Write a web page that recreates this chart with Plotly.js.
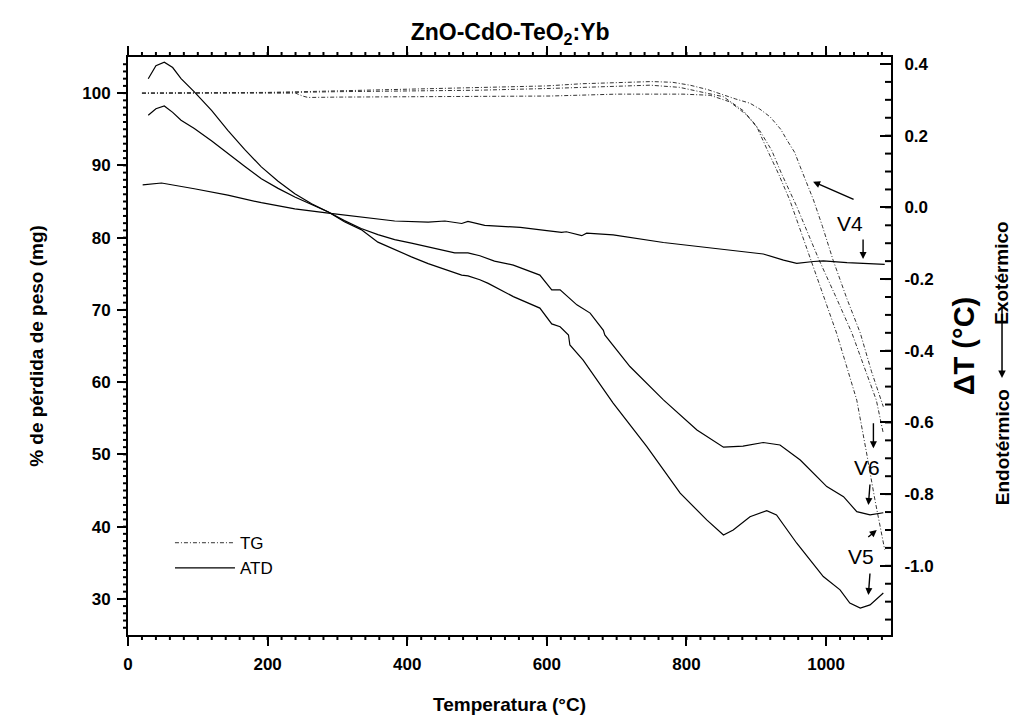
<!DOCTYPE html>
<html>
<head>
<meta charset="utf-8">
<script src="https://cdn.plot.ly/plotly-3.0.1.min.js"></script>
<style>html,body{margin:0;padding:0;background:#fff}#chart{width:1013px;height:719px}</style>
</head>
<body>
<div id="chart"></div>
<script>
// ---- TG curves (left axis, % weight) ----
const tgT1 = [20, 100, 200, 250, 300, 400, 500, 600, 650, 700, 750, 780, 805, 830, 853, 870, 891, 905, 920, 935, 944, 955, 963, 972, 982, 995, 1010, 1030, 1049, 1065, 1082];
const tg1  = [100.0, 100.0, 100.1, 100.2, 100.3, 100.5, 100.7, 101.0, 101.3, 101.5, 101.6, 101.5, 101.1, 100.5, 99.7, 99.2, 98.6, 97.8, 96.7, 95.0, 93.5, 91.8, 89.8, 87.6, 85.2, 81.5, 76.9, 71.5, 66.8, 61.5, 56.6];
const tgT2 = [20, 100, 200, 240, 300, 400, 500, 605, 700, 748, 790, 819, 853, 881, 900, 916, 932, 948, 965, 978, 998, 1015, 1030, 1044, 1058, 1070, 1084];
const tg2  = [100.0, 100.0, 100.0, 100.1, 100.2, 100.3, 100.4, 100.65, 100.95, 101.1, 100.8, 100.2, 99.5, 97.6, 95.5, 92.1, 88.8, 85.2, 80.5, 76.9, 71.6, 66.8, 62.0, 57.5, 50.2, 43.7, 36.8];
const tgT3 = [20, 100, 200, 240, 250, 258, 300, 400, 500, 605, 700, 795, 834, 862, 886, 905, 922, 936, 958, 990, 1015, 1037, 1055, 1072, 1082];
const tg3  = [100.0, 100.0, 100.0, 100.0, 99.6, 99.4, 99.45, 99.5, 99.5, 99.6, 99.86, 99.86, 99.7, 98.8, 97.0, 94.8, 92.1, 88.9, 84.3, 76.9, 71.6, 66.8, 62.0, 57.5, 52.9];

// ---- ATD curves (right axis, ΔT °C) ----
const atdT5 = [29, 40, 52, 64, 76, 95, 120, 143, 167, 191, 215, 239, 263, 287, 310, 334, 358, 382, 406, 430, 454, 478, 487, 504, 516, 552, 590, 607, 619, 631, 633, 652, 695, 743, 791, 829, 853, 867, 891, 915, 929, 958, 996, 1020, 1034, 1049, 1063, 1082];
const atd5  = [0.359, 0.395, 0.405, 0.39, 0.359, 0.322, 0.27, 0.215, 0.162, 0.113, 0.073, 0.038, 0.010, -0.013, -0.040, -0.062, -0.097, -0.118, -0.138, -0.157, -0.174, -0.189, -0.191, -0.202, -0.212, -0.249, -0.281, -0.325, -0.333, -0.356, -0.384, -0.426, -0.546, -0.667, -0.797, -0.872, -0.914, -0.900, -0.863, -0.846, -0.858, -0.937, -1.03, -1.067, -1.104, -1.118, -1.109, -1.076];
const atdT6 = [29, 40, 52, 64, 76, 95, 120, 143, 167, 191, 215, 239, 263, 287, 310, 334, 358, 382, 406, 430, 454, 468, 487, 504, 525, 552, 590, 607, 619, 643, 662, 681, 683, 719, 767, 815, 853, 881, 910, 934, 963, 1001, 1025, 1044, 1063, 1082];
const atd6  = [0.257, 0.275, 0.283, 0.265, 0.243, 0.22, 0.185, 0.15, 0.115, 0.08, 0.053, 0.029, 0.007, -0.013, -0.037, -0.059, -0.076, -0.09, -0.100, -0.110, -0.119, -0.127, -0.127, -0.135, -0.150, -0.161, -0.189, -0.23, -0.23, -0.272, -0.295, -0.343, -0.356, -0.444, -0.537, -0.621, -0.669, -0.666, -0.656, -0.663, -0.705, -0.779, -0.807, -0.849, -0.858, -0.852];
const atdT4 = [21, 48, 95, 143, 191, 239, 287, 334, 382, 430, 454, 478, 487, 511, 562, 600, 621, 628, 650, 657, 695, 767, 839, 910, 939, 958, 982, 996, 1030, 1084];
const atd4  = [0.063, 0.068, 0.052, 0.034, 0.013, -0.004, -0.016, -0.027, -0.038, -0.041, -0.038, -0.045, -0.039, -0.050, -0.056, -0.065, -0.070, -0.068, -0.079, -0.072, -0.077, -0.098, -0.114, -0.130, -0.147, -0.156, -0.151, -0.149, -0.154, -0.159];

const legendNames = ['TG', 'ATD'];
const y2Ticks = [0.4, 0.2, 0.0, -0.2, -0.4, -0.6, -0.8, -1.0, -1.2];
const y2TickText = ['0.4', '0.2', '0.0', '-0.2', '-0.4', '-0.6', '-0.8', '-1.0', '-1.2'];

const xRange = [0, 1093];
const yRange = [25, 105];
const y2Range = [-1.193, 0.4195];

const tgLine = {color: '#333', width: 1, dash: '4px,2px,1px,2px'};
const atdLine = {color: '#000', width: 1.2};

const traces = [
  {x: tgT1, y: tg1, mode: 'lines', line: tgLine, name: legendNames[0], showlegend: true, yaxis: 'y'},
  {x: tgT2, y: tg2, mode: 'lines', line: tgLine, name: legendNames[0], showlegend: false, yaxis: 'y'},
  {x: tgT3, y: tg3, mode: 'lines', line: tgLine, name: legendNames[0], showlegend: false, yaxis: 'y'},
  {x: atdT4, y: atd4, mode: 'lines', line: atdLine, name: legendNames[1], showlegend: true, yaxis: 'y2'},
  {x: atdT6, y: atd6, mode: 'lines', line: atdLine, name: legendNames[1], showlegend: false, yaxis: 'y2'},
  {x: atdT5, y: atd5, mode: 'lines', line: atdLine, name: legendNames[1], showlegend: false, yaxis: 'y2'}
];

const F = 'Liberation Sans, Arial, sans-serif';
const FN = 'Liberation Sans Narrow, Liberation Sans, Arial, sans-serif';
const tickFont = {family: F, size: 17, color: '#000', weight: 'bold'};

function arrow(x, y, ax, ay) {
  return {x: x, y: y, xref: 'x', yref: 'y', ax: ax, ay: ay, text: '', showarrow: true,
          arrowhead: 2, arrowsize: 1, arrowwidth: 1.4, arrowcolor: '#000'};
}
function label(x, y, t) {
  return {x: x, y: y, xref: 'x', yref: 'y', text: t, showarrow: false,
          font: {family: F, size: 21, color: '#000'}};
}

// minor tick marks drawn as small axis-decoration shapes (paper coordinates)
const tickShapes = [];
const tl = {color: '#000', width: 2};
function frac(v, r) { return (v - r[0]) / (r[1] - r[0]); }
for (let v = 20; v < xRange[1]; v += 20) {
  const p = frac(v, xRange);
  tickShapes.push({type: 'line', xref: 'paper', yref: 'paper', ysizemode: 'pixel', yanchor: 0, x0: p, x1: p, y0: 0, y1: -5, line: tl, layer: 'above'});
  tickShapes.push({type: 'line', xref: 'paper', yref: 'paper', ysizemode: 'pixel', yanchor: 1, x0: p, x1: p, y0: 0, y1: 5, line: tl, layer: 'above'});
}
for (let v = 26; v < yRange[1]; v += 1) {
  const p = frac(v, yRange);
  tickShapes.push({type: 'line', xref: 'paper', yref: 'paper', xsizemode: 'pixel', xanchor: 0, x0: 0, x1: -5, y0: p, y1: p, line: tl, layer: 'above'});
}
for (let k = -23; k <= 8; k++) {
  const p = frac(k * 0.05, y2Range);
  tickShapes.push({type: 'line', xref: 'paper', yref: 'paper', xsizemode: 'pixel', xanchor: 1, x0: 0, x1: -6, y0: p, y1: p, line: tl, layer: 'above'});
}

const layout = {
  width: 1013, height: 719,
  paper_bgcolor: '#fff', plot_bgcolor: '#fff',
  margin: {l: 128, r: 122, t: 57, b: 84},
  title: {text: 'ZnO-CdO-TeO<sub>2</sub>:Yb', x: 0.5036, xanchor: 'center', y: 1 - 32/719, yanchor: 'middle', yref: 'container',
          font: {family: F, size: 23, color: '#000', weight: 'bold'}},
  showlegend: true,
  legend: {x: 0.055, y: 0.19, xanchor: 'left', yanchor: 'top', bgcolor: 'rgba(0,0,0,0)', borderwidth: 0,
           font: {family: F, size: 17, color: '#000'}, itemwidth: 60, tracegroupgap: 0},
  xaxis: {range: xRange, tickmode: 'linear', tick0: 0, dtick: 200, ticks: 'outside', ticklen: 9, tickwidth: 2, tickcolor: '#000',
          showline: true, linecolor: '#000', linewidth: 2, mirror: 'allticks', showgrid: false, zeroline: false,
          tickfont: tickFont, ticklabelstandoff: 4,
          title: {text: 'Temperatura (°C)', standoff: 24, font: {family: F, size: 19, color: '#000', weight: 'bold'}}},
  yaxis: {range: yRange, tickmode: 'linear', tick0: 0, dtick: 10, ticks: 'outside', ticklen: 9, tickwidth: 2, tickcolor: '#000',
          showline: true, linecolor: '#000', linewidth: 2, showgrid: false, zeroline: false,
          tickfont: tickFont, ticklabelstandoff: 3,
          title: {text: '% de pérdida de peso (mg)', standoff: 34, font: {family: FN, size: 19, color: '#000', weight: 'bold'}}},
  yaxis2: {range: y2Range, overlaying: 'y', side: 'right', tickmode: 'array', tickvals: y2Ticks, ticktext: y2TickText,
           ticks: 'inside', ticklen: 11, tickwidth: 2, tickcolor: '#000',
           showline: true, linecolor: '#000', linewidth: 2, showgrid: false, zeroline: false,
           tickfont: tickFont, ticklabelstandoff: 8,
           title: {text: 'ΔT (°C)', standoff: 20, font: {family: F, size: 29, color: '#000', weight: 'bold'}}},
  shapes: tickShapes,
  annotations: [
    arrow(981.4, 87.74, 42, 18.3),
    label(1034.4, 82.0, 'V4'),
    arrow(1053, 77.04, 0, -21),
    arrow(1067.8, 50.84, 0, -26.6),
    label(1058.7, 48.25, 'V6'),
    arrow(1060.6, 42.99, 1.7, -22),
    arrow(1072.6, 39.53, -10, 8.3),
    label(1050.1, 35.93, 'V5'),
    arrow(1060.6, 30.54, 1.7, -23),
    {x: 1.1455, y: 0.625, xref: 'paper', yref: 'paper', xanchor: 'center', yanchor: 'middle', text: 'Exotérmico', textangle: -90, showarrow: false,
     font: {family: FN, size: 19, color: '#000', weight: 'bold'}},
    {x: 1.1455, y: 0.325, xref: 'paper', yref: 'paper', xanchor: 'center', yanchor: 'middle', text: 'Endotérmico', textangle: -90, showarrow: false,
     font: {family: FN, size: 19, color: '#000', weight: 'bold'}},
    {x: 1.1455, y: (635-378)/578, xref: 'paper', yref: 'paper', ax: 0, ay: -72, text: '', showarrow: true,
     arrowhead: 2, arrowsize: 1, arrowwidth: 1.5, arrowcolor: '#000'}
  ]
};

Plotly.newPlot('chart', traces, layout, {staticPlot: true, displayModeBar: false});
</script>
</body>
</html>
